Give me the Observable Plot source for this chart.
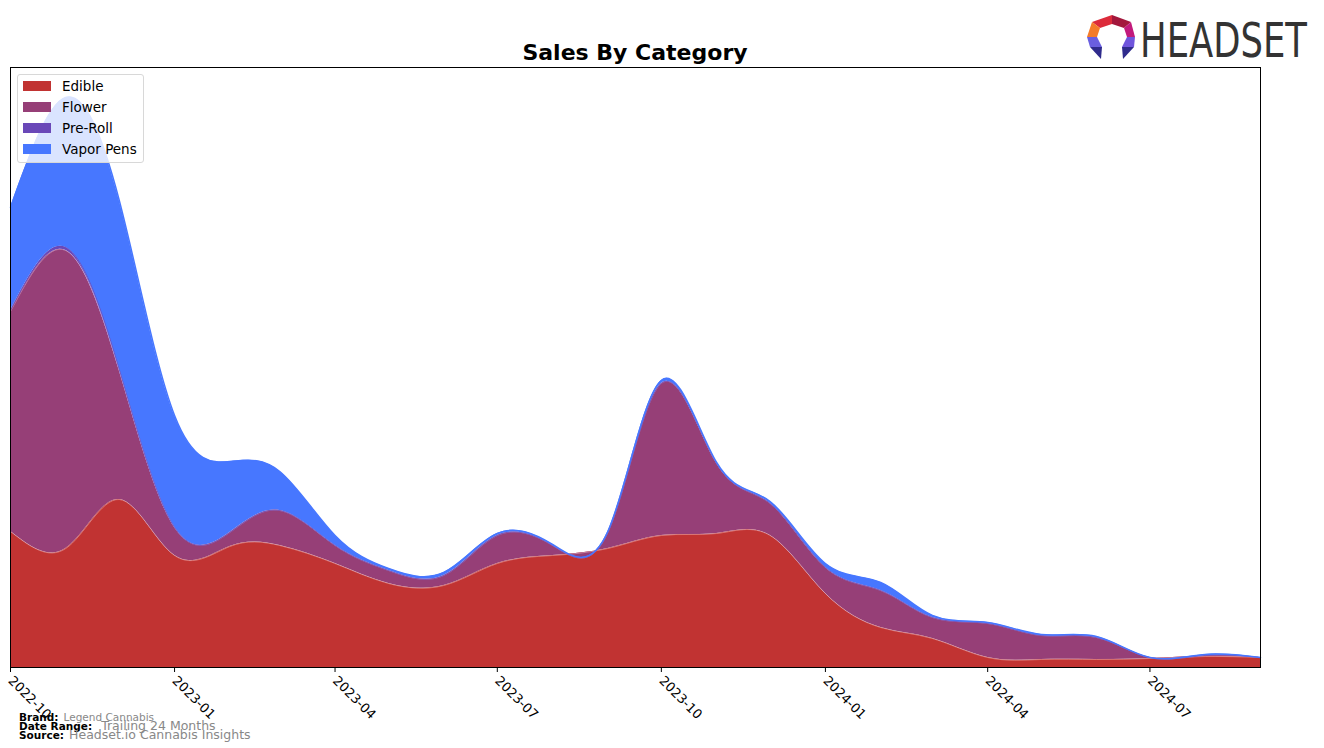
<!DOCTYPE html>
<html>
<head>
<meta charset="utf-8">
<script src="https://cdn.jsdelivr.net/npm/d3@7"></script>
<script src="https://cdn.jsdelivr.net/npm/@observablehq/plot@0.6"></script>
<style>
  html, body { margin: 0; padding: 0; background: #fff; }
  #wrap { position: relative; width: 1324px; height: 748px; overflow: hidden; font-family: "DejaVu Sans", sans-serif; }
  #chart { position: absolute; left: 0; top: 0; }
  #title { position: absolute; left: 10px; width: 1250px; top: 40px; text-align: center; font-weight: bold; font-size: 22px; color: #000; }
  #legend { position: absolute; left: 17px; top: 74px; width: 125px; height: 87px; border: 1px solid #d8d8d8; border-radius: 3px; background: rgba(255,255,255,0.8); font-size: 13.5px; }
  .li { position: absolute; left: 5px; height: 16px; line-height: 16px; }
  .sw { position: absolute; left: 0; top: 3px; width: 28px; height: 10px; }
  .lt { position: absolute; left: 39px; top: 0; white-space: nowrap; color: #000; }
  .foot { position: absolute; left: 19px; white-space: nowrap; color: #000; }
  .foot b { font-size: 10.5px; }
  .foot span { color: #888; }
  #logo { position: absolute; left: 1080px; top: 8px; }
</style>
</head>
<body>
<div id="wrap">
  <div id="chart"></div>
  <div id="title">Sales By Category</div>
  <div id="legend"></div>
  <div class="foot" style="top:706px;"><b>Brand:</b> <span style="font-size:10.5px;">Legend Cannabis</span></div>
  <div class="foot" style="top:715px;"><b>Date Range:</b> <span style="font-size:12.5px;">&nbsp;Trailing 24 Months</span></div>
  <div class="foot" style="top:724px;"><b>Source:</b> <span style="font-size:12.5px;">Headset.io Cannabis Insights</span></div>
  <svg id="logo" width="240" height="60" viewBox="0 0 240 60">
    <polygon points="32,7 12,14 20,20 32,16" fill="#dc2b3b"/>
    <polygon points="32,7 51,14 44,20 32,16" fill="#a3173c"/>
    <polygon points="12,14 7,29 17,29 20,20" fill="#f47c2a"/>
    <polygon points="51,14 55,29 47,29 44,20" fill="#c21a7c"/>
    <polygon points="7,29 17,29 22,39 10,39" fill="#6a5fe0"/>
    <polygon points="10,39 22,39 21,51" fill="#2f2b8c"/>
    <polygon points="55,29 47,29 42,39 54,39" fill="#6f55dc"/>
    <polygon points="54,39 42,39 43,51" fill="#2f2b8c"/>
    <g transform="translate(60,49) scale(0.82,1)">
      <text x="0" y="0" font-family="Liberation Sans Narrow, DejaVu Sans Condensed, sans-serif" font-size="48" fill="#333">HEADSET</text>
    </g>
  </svg>
</div>
<script>
const months = ["2022-10","2022-11","2022-12","2023-01","2023-02","2023-03","2023-04","2023-05","2023-06","2023-07","2023-08","2023-09","2023-10","2023-11","2023-12","2024-01","2024-02","2024-03","2024-04","2024-05","2024-06","2024-07","2024-08","2024-09"];
const categories = ["Edible","Flower","Pre-Roll","Vapor Pens"];
const edible    = [136,119,168,112,121,122,104, 84, 82,104,112,119,132,134,132, 74, 40, 29, 10,  8,  8,  9, 11, 10];
const flower    = [220,298,129, 28, 14, 35, 18, 13, 10, 28, 10, 16,152, 70, 32, 26, 37, 21, 34, 24, 22,  1,  1,  0];
const preRoll   = [  1,  3,  1,  0,  0,  0,  0,  0,  0,  0,  0,  0,  0,  0,  0,  0,  0,  0,  0,  0,  0,  0,  0,  0];
const vaporPens = [103,150,169,112, 71, 39, 10,  2,  3,  2,  1,  1,  3,  1,  2,  4,  8,  2,  1,  1,  1,  0,  1,  0];
const colors = ["#c13332","#963f77","#6a48b8","#4777ff"];
const edgeColors = ["rgba(255,220,220,0.5)","rgba(255,220,240,0.45)","#6a48b8","#4777ff"];
const xTicks = ["2022-10","2023-01","2023-04","2023-07","2023-10","2024-01","2024-04","2024-07"];

const seriesVals = [edible, flower, preRoll, vaporPens];
const parse = d3.utcParse("%Y-%m");
const data = [];
categories.forEach((c, ci) => {
  months.forEach((m, i) => data.push({date: parse(m), category: c, value: seriesVals[ci][i]}));
});

const plot = Plot.plot({
  width: 1324,
  height: 748,
  marginLeft: 10,
  marginRight: 64,
  marginTop: 67,
  marginBottom: 81,
  style: {fontFamily: "DejaVu Sans, sans-serif", fontSize: "13px", background: "transparent", color: "#000"},
  x: {type: "utc", domain: [parse(months[0]), parse(months[months.length - 1])]},
  y: {domain: [0, 600], axis: null},
  color: {domain: categories, range: colors},
  marks: [
    Plot.areaY(data, {x: "date", y: "value", z: "category", fill: "category", fillOpacity: 1, curve: "natural", order: categories}),
    Plot.lineY(data, Plot.stackY2({x: "date", y: "value", z: "category", order: categories, curve: "natural",
      stroke: d => edgeColors[categories.indexOf(d.category)], strokeWidth: d => d.category === "Vapor Pens" ? 1.5 : 0.8})),
    Plot.frame({stroke: "#000", strokeWidth: 1}),
    Plot.axisX(xTicks.map(parse), {tickFormat: d3.utcFormat("%Y-%m"), tickRotate: 45, tickSize: 5, tickPadding: 6, fontSize: 13, label: null, stroke: "#000"})
  ]
});
document.getElementById("chart").appendChild(plot);

const leg = document.getElementById("legend");
categories.forEach((c, i) => {
  const row = document.createElement("div");
  row.className = "li";
  row.style.top = (3 + i * 21) + "px";
  row.innerHTML = `<div class="sw" style="background:${colors[i]}"></div><div class="lt">${c}</div>`;
  leg.appendChild(row);
});
</script>
</body>
</html>
